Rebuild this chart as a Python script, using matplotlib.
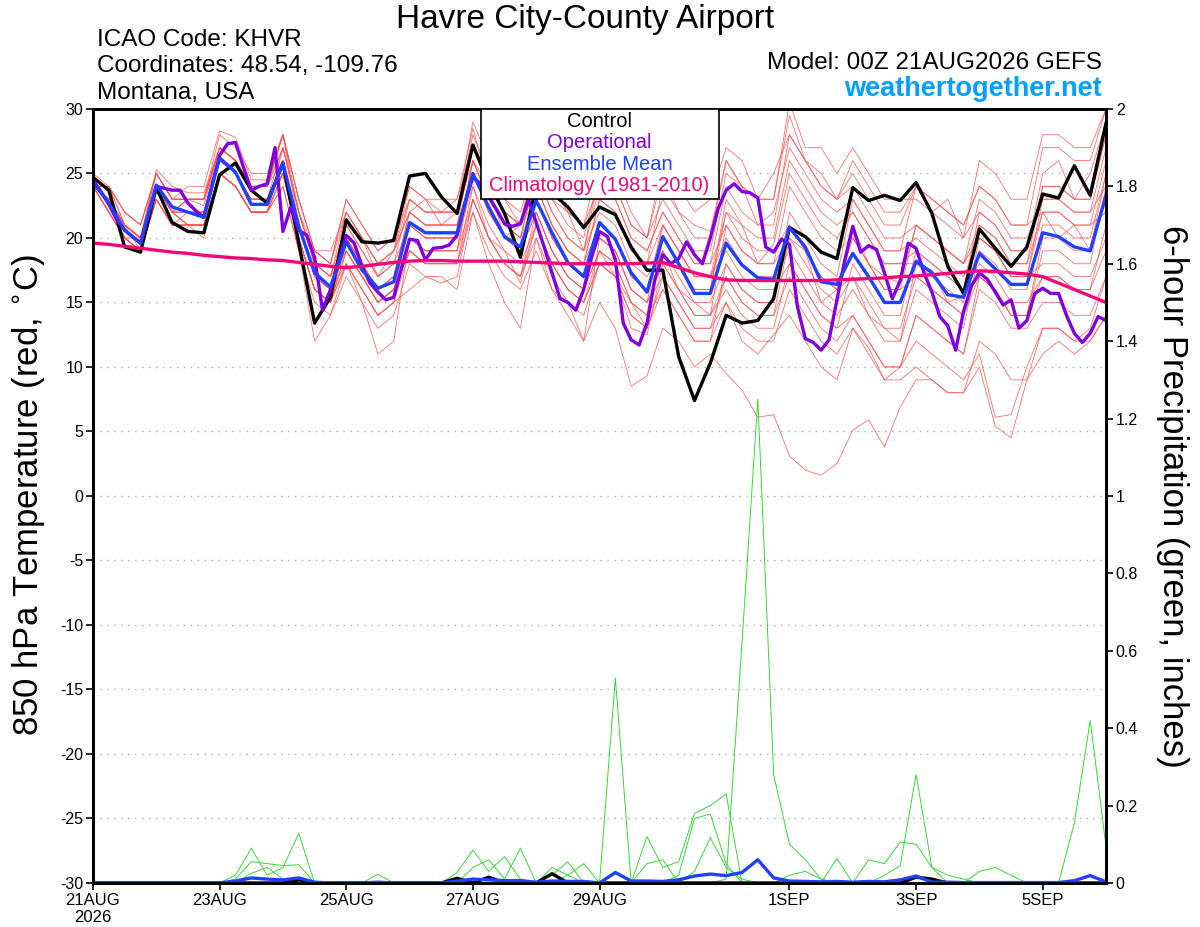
import numpy as np
import matplotlib
matplotlib.use("Agg")
import matplotlib.pyplot as plt
from matplotlib.patches import Rectangle

plt.rcParams['font.family'] = ['Liberation Sans', 'DejaVu Sans']

# eixo do tempo (horas desde 00Z 21AUG)
hours_6h = np.arange(0, 385, 6)
hours_3h = np.arange(0, 385, 3)

tick_hours = [0, 48, 96, 144, 192, 264, 312, 360]
tick_labels = ['21AUG\n2026', '23AUG', '25AUG', '27AUG', '29AUG', '1SEP', '3SEP', '5SEP']

temp_ticks = [-30, -25, -20, -15, -10, -5, 0, 5, 10, 15, 20, 25, 30]
precip_ticks = [0, 0.2, 0.4, 0.6, 0.8, 1, 1.2, 1.4, 1.6, 1.8, 2]
precip_tick_labels = ['0', '0.2', '0.4', '0.6', '0.8', '1', '1.2', '1.4', '1.6', '1.8', '2']

# temperatura 850 hPa - controle (6h)
control = [24.7, 23.7, 19.3, 18.9, 23.9, 21.2, 20.5, 20.4, 24.9, 25.8, 23.7, 22.7,
           25.8, 19.6, 13.4, 15.4, 21.4, 19.7, 19.6, 19.8, 24.8, 25.0, 23.2, 21.9,
           27.2, 24.3, 21.9, 18.5, 24.0, 23.5, 22.4, 20.8, 22.4, 21.8, 19.3, 17.5,
           17.5, 10.8, 7.4, 10.3, 14.0, 13.4, 13.6, 15.3, 20.8, 20.1, 18.9, 18.4,
           23.9, 22.9, 23.3, 22.9, 24.3, 21.9, 17.8, 15.7, 20.7, 19.2, 17.8, 19.3,
           23.4, 23.1, 25.6, 23.3, 28.9]

# operacional (3h)
operational = [24.5, 23.6, 22.6, 21.4, 20.6, 20.1, 19.6, 21.8, 24.0, 23.85, 23.7, 23.7,
               22.7, 22.1, 21.6, 24.0, 26.4, 27.3, 27.4, 25.5, 23.7, 24.0, 24.2, 27.0,
               20.5, 22.4, 20.6, 20.2, 18.5, 14.4, 16.0, 18.1, 20.2, 19.6, 17.8, 16.5,
               15.8, 15.2, 15.4, 17.7, 19.9, 19.8, 18.3, 19.2, 19.25, 19.45, 20.2, 22.7,
               24.7, 24.2, 23.2, 22.2, 21.1, 20.9, 21.1, 23.0, 21.2, 19.3, 17.3, 15.3,
               15.0, 14.4, 16.0, 18.5, 20.5, 20.1, 18.3, 13.4, 12.1, 11.7, 13.4, 16.8,
               18.7, 18.0, 18.4, 19.7, 18.7, 18.0, 20.0, 22.3, 23.7, 24.2, 23.6, 23.5,
               23.1, 19.3, 18.9, 19.9, 19.5, 14.7, 12.2, 11.9, 11.3, 12.1, 15.2, 18.3,
               20.9, 18.9, 19.4, 19.1, 17.3, 15.3, 16.7, 19.6, 19.2, 17.3, 15.8, 13.9,
               13.2, 11.3, 14.3, 16.3, 17.3, 16.8, 15.8, 14.8, 15.2, 13.0, 13.6, 15.7,
               16.1, 15.7, 15.7, 14.0, 12.6, 11.9, 12.6, 13.9, 13.6]

# media do ensemble (6h)
ens_mean = [24.3, 22.7, 20.6, 19.6, 24.1, 22.4, 22.0, 21.6, 26.2, 25.1, 22.6, 22.6,
            25.8, 20.9, 17.3, 16.2, 19.7, 17.5, 16.1, 16.6, 21.2, 20.4, 20.4, 20.4,
            25.0, 22.4, 20.1, 19.3, 22.9, 20.4, 18.1, 17.0, 21.2, 19.9, 17.3, 15.8,
            20.1, 18.0, 15.7, 15.7, 19.6, 17.9, 16.9, 16.8, 20.8, 19.3, 16.6, 16.4,
            18.8, 17.0, 15.0, 15.0, 18.2, 17.3, 15.6, 15.4, 18.8, 17.6, 16.4, 16.4,
            20.4, 20.1, 19.3, 19.0, 23.3]

# climatologia 1981-2010 (6h)
climatology = [19.6, 19.5, 19.35, 19.2, 19.05, 18.9, 18.8, 18.65, 18.55, 18.45, 18.4, 18.3,
               18.25, 18.1, 17.95, 17.8, 17.7, 17.8, 17.95, 18.1, 18.2, 18.25, 18.25, 18.2,
               18.2, 18.2, 18.2, 18.15, 18.1, 18.05, 18.0, 18.0, 18.0, 18.0, 18.0, 18.05,
               18.1, 17.7, 17.3, 17.0, 16.75, 16.7, 16.7, 16.7, 16.7, 16.7, 16.7, 16.75,
               16.8, 16.85, 16.9, 17.0, 17.05, 17.15, 17.25, 17.35, 17.45, 17.4, 17.3, 17.2,
               17.0, 16.5, 16.0, 15.5, 15.0]

# membros do ensemble (6h)
mem01 = [25, 24, 21, 20, 25, 23, 23, 22.5, 27, 26, 24, 24, 28, 23, 19, 18, 22, 20, 18, 19, 24, 23, 22, 23, 28.5, 24, 23, 21, 27, 24, 22, 21, 26, 25, 22, 20, 26, 24, 22, 23, 27, 26, 23, 25, 28, 26, 24, 23, 25, 23, 21, 21, 24, 22, 23, 20, 26, 25, 23, 23, 28, 28, 27, 27, 30]
mem02 = [24, 22, 20, 19, 23, 21, 21, 20, 25, 24, 22, 22, 24, 19, 15, 14, 17, 15, 13, 14, 18, 17, 17, 16, 22, 19, 17, 16, 19, 16, 14, 12, 15, 13, 8.5, 9.3, 13, 12, 10, 11, 9.5, 8.2, 6.1, 6.3, 3.1, 2, 1.6, 2.5, 5.1, 5.9, 3.8, 6.9, 9, 9, 8, 8, 12, 11, 9, 9, 13, 13, 12, 12, 14]
mem03 = [24, 23, 20, 19, 24, 22, 21, 21, 25, 24, 22, 22, 25, 20, 16, 15, 18, 16, 14, 15, 19, 18, 18, 18, 23, 20, 18, 17, 20, 17, 15, 14, 18, 17, 14, 13, 16, 14, 12, 12, 15, 13, 12, 12, 16, 14, 12, 11, 13, 11, 9, 9, 10, 9, 8, 8, 10, 5.4, 4.5, 9, 11, 12, 11, 12, 14]
mem04 = [24, 23, 21, 20, 24, 22, 22, 22, 26, 25, 23, 23, 25, 20, 16, 15, 19, 17, 15, 16, 20, 19, 19, 19, 23, 20, 18, 17, 21, 18, 16, 15, 18, 17, 14, 13, 17, 15, 13, 13, 17, 15, 14, 14, 17, 15, 13, 12, 14, 12, 10, 10, 12, 11, 10, 9, 11, 6.1, 6.3, 10, 13, 13, 12, 13, 17]
mem05 = [24, 23, 21, 20, 24, 22, 23, 23, 27, 26, 24, 24, 27, 22, 18, 17, 22, 20, 18, 19, 23, 22, 22, 22, 28, 25, 23, 22, 26, 23, 21, 20, 25, 24, 21, 20, 25, 22, 21, 20.5, 26, 24, 23, 23, 29.5, 26, 25, 23, 26, 24, 22, 22, 24, 23, 22, 21, 24, 23, 21, 21, 27, 27, 26, 26, 30]
mem06 = [24, 23, 21, 20, 25, 23, 23, 23, 26, 25, 23, 23, 25, 20, 16, 15, 20, 18, 16, 17, 22, 21, 21, 21, 27, 24, 22, 21, 24, 21, 19, 18, 21, 20, 17, 16, 19, 17, 15, 15, 18, 16, 15, 15, 21, 19, 17, 16, 21, 18, 17, 16.5, 21, 20, 19, 18, 21, 20, 18, 18, 22, 20, 21, 19, 23]
mem07 = [24, 22, 20, 19, 23, 21, 21, 21, 25, 24, 22, 22, 27, 22, 18, 17, 21, 19, 17, 18, 21, 20, 20, 20, 24, 21, 19, 18, 21, 18, 16, 15, 19, 17, 15, 13, 20, 18, 16, 16, 22, 21, 18, 19.5, 25, 23, 21, 20, 22, 20, 18, 18, 19, 18, 17, 16, 18, 17, 15, 15, 17, 17, 16, 16, 19]
mem08 = [24, 24, 22, 21, 25, 23, 23, 23, 28, 27, 25, 25, 28, 21, 17, 16, 18, 16, 14, 15, 20, 19, 19, 19, 26, 23, 21, 20, 25, 22, 20, 19, 24, 23, 20, 19, 22, 20, 18, 18, 21, 19, 18, 18, 20, 18, 16, 15, 17, 14, 13, 12, 18, 17, 16, 15, 21, 20, 18, 18, 24, 24, 23, 23, 28]
mem09 = [24, 23, 21, 19, 24, 22, 21, 21, 25, 24, 22, 22, 24, 19, 12, 14, 18, 15, 11, 12, 20, 19, 19, 19, 25, 22, 20, 19, 24, 21, 19, 18, 23, 22, 19, 18, 21, 19, 17, 17, 20, 18, 17, 17, 19, 17, 15, 14, 16, 14, 12, 12, 16, 15, 14, 13, 19, 18, 16, 16, 21, 21, 20, 20, 25]
mem10 = [24, 23, 21, 20, 24, 22, 23, 23, 27, 26, 24, 24, 28, 23, 19, 18, 23, 21, 19, 20, 23, 22, 22, 22, 26, 24, 20, 21, 23, 20, 18, 17, 20, 19, 16, 15, 18, 16, 14, 14, 17, 15, 14, 14, 20, 19, 15, 16, 20, 18, 16, 16, 21, 20, 19, 18, 23, 22, 20, 20, 23, 23, 22, 22, 24]
mem11 = [24, 22, 20, 19, 23, 21, 22, 22, 26, 25, 23, 23, 26, 21, 17, 16, 21, 19, 17, 18, 23, 22, 22, 22, 27, 24, 22, 21, 26, 23, 22, 19, 25, 24, 21, 20, 23, 21, 19, 19, 25, 24, 21, 22, 27, 25, 23, 22, 23, 21, 19, 19, 20, 19, 18, 17, 20, 19, 17, 17, 22, 22, 21, 21, 26]
mem12 = [24, 23, 21, 20, 24, 22, 22, 22, 26, 25, 23, 23, 25, 20, 16, 15, 18, 16, 14, 15, 16, 17, 16.5, 17, 23, 20, 18, 17, 22, 19, 17, 16, 21, 20, 17, 16, 21, 19, 17, 17, 19, 17, 16, 16, 18, 16, 14, 13, 14, 12, 10, 10, 14, 13, 12, 11, 16, 15, 13, 13, 15, 15, 14, 14, 17]
mem13 = [24, 24, 22, 21, 25, 23, 23, 23, 27, 26, 24, 24, 27, 22, 18, 17, 20, 18, 16, 17, 21, 20, 20, 20, 26, 23, 21, 20, 25, 22, 20, 19, 22, 21, 18, 17, 19, 16, 15, 14, 16, 14, 13, 13, 18, 16, 14, 13, 18, 16, 14, 14, 19, 18, 17, 16, 22, 21, 19, 19, 25, 26, 23, 25, 29]
mem14 = [24, 23, 20, 20, 24, 22, 21, 21, 25, 24, 22, 22, 26, 21, 17, 16, 19, 17, 15, 16, 19, 18, 18, 18, 24, 20, 19, 16.5, 21, 18, 16, 15, 18, 17, 13, 12.5, 18, 16, 14, 14, 21, 19, 18, 18, 24, 22, 20, 19, 20, 18, 16, 16, 17, 16, 15, 14, 17, 16, 14, 14, 20, 20, 19, 19, 25]
mem15 = [24, 24, 21, 20, 25.3, 24, 23.5, 23.5, 27, 26, 24, 24, 28, 23, 19, 18, 23, 21, 19, 20, 24, 23, 23, 23, 27, 24, 22, 21, 24, 21, 19, 18, 23, 22, 19, 18, 24, 22, 20, 20, 26, 24, 23, 23, 30.5, 27, 27, 25, 27, 25, 23, 23, 23, 22, 21, 20, 22, 21, 19, 19, 24, 24, 23, 23, 28]
mem16 = [24, 22, 20, 19, 23, 21, 21, 21, 25, 24, 22, 22, 25, 20, 16, 15, 19, 17, 15, 16, 21, 20, 20, 20, 26, 23, 21, 20, 23, 20, 18, 17, 20, 19, 16, 15, 17, 15, 13, 13, 15, 12, 11, 12.5, 14, 12, 10, 9, 13, 11.5, 9, 10, 14, 13, 12, 11, 17, 16, 14, 14, 19, 19, 18, 18, 24]
mem17 = [24, 23, 21, 20, 24, 22, 23, 23, 27, 26, 24, 24, 26, 21, 17, 16, 21, 20, 17, 19, 22, 21, 21, 21, 25, 22, 20, 19, 22, 19, 17, 16, 19, 18, 15, 14, 20, 18, 16, 16, 23, 21, 20, 20, 26, 24, 22, 21, 22, 20, 18, 18, 18, 17.5, 15, 15.5, 17, 16, 14, 14, 17, 17, 16, 16, 21]
mem18 = [24, 23, 21, 20, 24, 22, 22, 22, 26, 25, 23, 23, 27, 22, 18, 17, 19, 17, 15, 16, 19, 18, 18, 18, 22, 18, 15, 13, 20, 16, 15, 12, 20, 19, 16, 15, 21, 19, 17, 17, 22, 20, 19, 19, 21, 19, 17, 16, 17, 15, 13, 13, 17, 16, 15, 14, 20, 19, 17, 17, 23, 23, 22, 22, 27]
mem19 = [24, 24, 22, 21, 25, 23, 24, 24, 28.3, 27.8, 24.5, 24.5, 28, 22, 19, 19, 22, 20, 18, 19, 22, 21, 21, 21, 25, 22, 20, 19, 22, 19, 17, 16, 19, 18, 15, 14, 16, 14, 12, 12, 18, 16, 15, 15, 22, 20, 18, 17, 23, 21, 19, 19, 24, 23, 22, 21, 24, 23, 21, 21, 22, 22, 21, 21, 22]
mem20 = [24, 22, 20, 19, 23, 21, 21, 21, 25, 24, 22, 22, 25, 20, 16, 15, 20, 18, 16, 17, 22, 23, 21, 22, 29, 26, 24, 23, 27, 24, 22, 21, 24, 23, 20, 19, 22, 20, 18, 18, 24, 22, 21, 21, 28, 26, 24, 23, 24, 22, 20, 20, 21, 20, 19, 18, 20, 19, 17, 17, 18, 18, 17, 17, 20]

members = [mem01, mem02, mem03, mem04, mem05, mem06, mem07, mem08, mem09, mem10,
           mem11, mem12, mem13, mem14, mem15, mem16, mem17, mem18, mem19, mem20]

# precipitacao 6h dos membros (polegadas)
pcp01 = [0] * 40 + [0.01, 0.62, 1.25, 0.28, 0.10, 0.06, 0.01] + [0] * 18
pcp02 = [0] * 30 + [0.02, 0, 0, 0.53, 0] + [0] * 30
pcp03 = [0] * 35 + [0.12, 0.04, 0.055, 0.18, 0.2, 0.23, 0] + [0] * 23
pcp04 = [0] * 37 + [0.02, 0.167, 0.178, 0.05, 0] + [0] * 23
pcp05 = [0] * 38 + [0.03, 0.117, 0.04, 0.01] + [0] * 23
pcp06 = [0] * 50 + [0.02, 0.045, 0.28, 0.04, 0.02, 0.01] + [0] * 9
pcp07 = [0] * 61 + [0, 0.155, 0.42, 0.094]
pcp08 = [0] * 47 + [0.063, 0, 0.06, 0.05, 0.106, 0.10, 0.04] + [0] * 11
pcp09 = [0] * 9 + [0.02, 0.09, 0.02, 0.04, 0.128, 0] + [0] * 50
pcp10 = ([0] * 9 + [0.01, 0.055, 0.05, 0.045, 0.047, 0] + [0] * 8
         + [0.027, 0.085, 0.03, 0.068, 0.01] + [0] * 37)
pcp11 = ([0] * 10 + [0.025, 0.04, 0.01] + [0] * 5 + [0.023] + [0] * 5
         + [0.04, 0.06, 0.01, 0.09, 0, 0.02, 0.055] + [0] * 34)
pcp12 = ([0] * 29 + [0.04, 0.02, 0.05] + [0] * 3 + [0.05, 0.06] + [0] * 7
         + [0.02, 0.03, 0.01] + [0] * 9 + [0.03, 0.04, 0.02] + [0] * 6)

precip_members = [pcp01, pcp02, pcp03, pcp04, pcp05, pcp06,
                  pcp07, pcp08, pcp09, pcp10, pcp11, pcp12]

precip_control = ([0] * 13 + [0.008] + [0] * 9 + [0.012, 0, 0.015, 0, 0, 0, 0.024]
                  + [0] * 22 + [0.015, 0.01] + [0] * 11)
precip_mean = [0, 0, 0, 0, 0, 0, 0, 0, 0, 0.005, 0.013, 0.01, 0.008, 0.013, 0.002, 0,
               0, 0, 0.002, 0, 0, 0, 0, 0.005, 0.01, 0.008, 0.006, 0.006, 0.002, 0.005,
               0.004, 0.004, 0, 0.027, 0.005, 0.005, 0.004, 0.008, 0.018, 0.023, 0.019,
               0.027, 0.06, 0.013, 0.005, 0.004, 0.003, 0.004, 0.002, 0.004, 0.003,
               0.008, 0.018, 0.002, 0.002, 0.001, 0.001, 0.001, 0.001, 0.001, 0.001,
               0.001, 0.006, 0.019, 0.003]

# cores
c_member = '#ff4a4a'
c_precip = '#33dd33'
c_control = 'black'
c_oper = '#8000e0'
c_mean = '#2040ff'
c_clim = '#f0087a'

fig = plt.figure(figsize=(12, 9.27), dpi=100)
ax = fig.add_axes([0.0775, 0.0475, 0.8442, 0.835])
ax2 = ax.twinx()

for m in members:
    ax.plot(hours_6h, m, color=c_member, lw=0.6, alpha=0.8)

ax.plot(hours_6h, control, color=c_control, lw=2.4)
ax.plot(hours_3h, operational, color=c_oper, lw=2.4)
ax.plot(hours_6h, ens_mean, color=c_mean, lw=2.4)
ax.plot(hours_6h, climatology, color=c_clim, lw=2.4)

for p in precip_members:
    ax2.plot(hours_6h, p, color=c_precip, lw=0.7)
ax2.plot(hours_6h, precip_control, color=c_control, lw=2.4)
ax2.plot(hours_6h, precip_mean, color=c_mean, lw=2.4)

ax.set_xlim(0, 384)
ax.set_ylim(-30, 30)
ax2.set_ylim(0, 2)

ax.set_yticks(temp_ticks)
ax.set_yticklabels([str(t) for t in temp_ticks])
ax2.set_yticks(precip_ticks)
ax2.set_yticklabels(precip_tick_labels)
ax.set_xticks(tick_hours)
ax.set_xticklabels(tick_labels)

for t in temp_ticks[1:-1]:
    ax.axhline(t, color='#aaaaaa', lw=1.0, ls=(0, (1, 4)), zorder=0)

ax.tick_params(axis='y', labelsize=11.5, length=5, width=1.2, direction='out', pad=2)
ax.tick_params(axis='x', labelsize=12, length=5, width=1.2, direction='out', pad=2)
ax2.tick_params(axis='y', labelsize=11.5, length=5, width=1.2, direction='out', pad=2)
for a in (ax, ax2):
    for s in a.spines.values():
        s.set_linewidth(2)

# caixa de legenda
ax2.add_patch(Rectangle((0.383, 0.884), 0.235, 0.116, transform=ax2.transAxes,
                        facecolor='white', edgecolor='black', lw=1.2, zorder=10))
legend_items = [('Control', c_control), ('Operational', c_oper),
                ('Ensemble Mean', c_mean), ('Climatology (1981-2010)', c_clim)]
for k, (txt, col) in enumerate(legend_items):
    ax2.text(0.5, 0.984 - k * 0.0277, txt, color=col, fontsize=14.5,
             ha='center', va='center', transform=ax2.transAxes, zorder=11)

# textos
fig.text(0.4875, 0.979, 'Havre City-County Airport', fontsize=24, ha='center', va='center')
fig.text(0.081, 0.957, 'ICAO Code: KHVR', fontsize=17.5, ha='left', va='center')
fig.text(0.081, 0.929, 'Coordinates: 48.54, -109.76', fontsize=17.5, ha='left', va='center')
fig.text(0.081, 0.900, 'Montana, USA', fontsize=17.5, ha='left', va='center')
fig.text(0.918, 0.932, 'Model: 00Z 21AUG2026 GEFS', fontsize=17.5, ha='right', va='center')
fig.text(0.918, 0.904, 'weathertogether.net', fontsize=19.5, fontweight='bold',
         color='#00a0ff', ha='right', va='center')

fig.text(0.024, 0.466, '850 hPa Temperature (red, $^{\\circ}$C)', fontsize=25,
         rotation=90, ha='center', va='center')
fig.text(0.977, 0.464, '6-hour Precipitation (green, inches)', fontsize=25,
         rotation=270, ha='center', va='center')

fig.savefig('out.png', dpi=100)
